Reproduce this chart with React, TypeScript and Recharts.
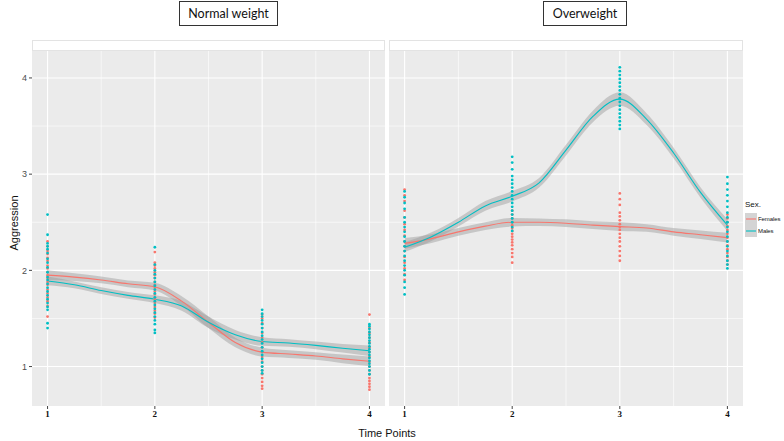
import { ComposedChart, XAxis, YAxis, CartesianGrid, Scatter, Area, Line } from 'recharts';

const timePoints = [1, 2, 3, 4];
const xTicks = [1, 2, 3, 4];
const yTicks = [1, 2, 3, 4];
const minorX = [1.5, 2.5, 3.5];
const minorY = [1.5, 2.5, 3.5];
const panels = ['Normal weight', 'Overweight'];
const sexes = ['Females', 'Males'];

// smoothed curve at these x positions
const curveX = [1, 1.25, 1.5, 1.75, 2, 2.25, 2.5, 2.75, 3, 3.25, 3.5, 3.75, 4];

const nwFemLine = [1.95, 1.93, 1.9, 1.86, 1.83, 1.68, 1.46, 1.25, 1.15, 1.13, 1.11, 1.08, 1.055];
const nwFemHalf = [0.05, 0.04, 0.035, 0.035, 0.04, 0.05, 0.06, 0.05, 0.045, 0.04, 0.04, 0.045, 0.05];
const nwMaleLine = [1.89, 1.85, 1.79, 1.74, 1.7, 1.63, 1.46, 1.33, 1.26, 1.245, 1.22, 1.19, 1.165];
const nwMaleHalf = [0.045, 0.035, 0.035, 0.035, 0.04, 0.05, 0.06, 0.05, 0.045, 0.04, 0.04, 0.045, 0.055];

const owFemLine = [2.28, 2.33, 2.4, 2.46, 2.5, 2.5, 2.49, 2.47, 2.455, 2.44, 2.4, 2.37, 2.34];
const owFemHalf = [0.055, 0.045, 0.04, 0.04, 0.045, 0.04, 0.04, 0.04, 0.045, 0.04, 0.04, 0.045, 0.05];
const owMaleLine = [2.24, 2.35, 2.5, 2.67, 2.77, 2.91, 3.25, 3.6, 3.78, 3.57, 3.22, 2.81, 2.47];
const owMaleHalf = [0.05, 0.045, 0.045, 0.05, 0.055, 0.05, 0.055, 0.06, 0.07, 0.06, 0.055, 0.055, 0.06];

// individual scores, one list per time point
const nwFemPts = [
  [2.3, 2.25, 2.2, 2.17, 2.13, 2.1, 2.05, 2.02, 1.98, 1.95, 1.92, 1.88, 1.85, 1.8, 1.76, 1.72, 1.68, 1.63, 1.52],
  [2.19, 2.08, 2.05, 2.02, 1.98, 1.95, 1.92, 1.88, 1.85, 1.82, 1.78, 1.75, 1.7, 1.66, 1.62, 1.58, 1.55, 1.51],
  [1.54, 1.5, 1.45, 1.4, 1.35, 1.3, 1.25, 1.2, 1.15, 1.1, 1.05, 1.0, 0.96, 0.92, 0.88, 0.84, 0.8, 0.77],
  [1.54, 1.4, 1.35, 1.3, 1.25, 1.2, 1.15, 1.1, 1.05, 1.0, 0.96, 0.92, 0.88, 0.85, 0.82, 0.79, 0.76],
];
const nwMalePts = [
  [2.58, 2.37, 2.28, 2.25, 2.22, 2.18, 2.12, 2.08, 2.03, 1.98, 1.93, 1.9, 1.86, 1.82, 1.78, 1.74, 1.7, 1.66, 1.62, 1.59, 1.45, 1.4],
  [2.24, 2.06, 2.0, 1.96, 1.92, 1.88, 1.84, 1.8, 1.76, 1.72, 1.68, 1.64, 1.6, 1.56, 1.52, 1.48, 1.44, 1.38, 1.35],
  [1.59, 1.55, 1.52, 1.48, 1.44, 1.4, 1.36, 1.32, 1.28, 1.24, 1.2, 1.16, 1.12, 1.08, 1.04, 1.0, 0.96, 0.93],
  [1.44, 1.42, 1.39, 1.36, 1.33, 1.3, 1.27, 1.24, 1.21, 1.18, 1.15, 1.12, 1.09, 1.06, 1.03, 1.0, 0.96, 0.92],
];
const owFemPts = [
  [2.84, 2.78, 2.72, 2.62, 2.55, 2.48, 2.42, 2.36, 2.3, 2.25, 2.2, 2.14, 2.08, 2.02, 1.96, 1.9],
  [2.62, 2.58, 2.54, 2.5, 2.47, 2.44, 2.41, 2.38, 2.35, 2.32, 2.29, 2.26, 2.22, 2.18, 2.14, 2.08],
  [2.8, 2.74, 2.68, 2.6, 2.56, 2.52, 2.48, 2.45, 2.42, 2.38, 2.34, 2.3, 2.25, 2.2, 2.15, 2.1],
  [2.58, 2.54, 2.5, 2.46, 2.42, 2.38, 2.34, 2.3, 2.26, 2.22, 2.18, 2.14, 2.1, 2.06],
];
const owMalePts = [
  [2.82, 2.76, 2.7, 2.64, 2.55, 2.5, 2.45, 2.4, 2.35, 2.3, 2.25, 2.2, 2.15, 2.1, 2.05, 2.0, 1.95, 1.88, 1.82, 1.75],
  [3.18, 3.12, 3.05, 2.98, 2.94, 2.9, 2.86, 2.82, 2.78, 2.74, 2.7, 2.66, 2.62, 2.58, 2.54, 2.5, 2.45, 2.41],
  [4.11, 4.07, 4.03, 3.99, 3.95, 3.91, 3.87, 3.83, 3.79, 3.75, 3.71, 3.67, 3.63, 3.59, 3.55, 3.51, 3.47],
  [2.97, 2.9, 2.84, 2.78, 2.72, 2.66, 2.6, 2.55, 2.5, 2.45, 2.4, 2.35, 2.3, 2.25, 2.2, 2.15, 2.1, 2.06, 2.02],
];

const FEM = '#F8766D';
const MALE = '#00BFC4';

const buildCurve = (fl: number[], fh: number[], ml: number[], mh: number[]) =>
  curveX.map((x, i) => ({
    x,
    f: fl[i],
    m: ml[i],
    fBand: [fl[i] - fh[i], fl[i] + fh[i]],
    mBand: [ml[i] - mh[i], ml[i] + mh[i]],
  }));

const buildPts = (lists: number[][]) =>
  lists.flatMap((ys, k) => ys.map((y) => ({ x: timePoints[k], y })));

const panelData = [
  { curve: buildCurve(nwFemLine, nwFemHalf, nwMaleLine, nwMaleHalf), fem: buildPts(nwFemPts), male: buildPts(nwMalePts) },
  { curve: buildCurve(owFemLine, owFemHalf, owMaleLine, owMaleHalf), fem: buildPts(owFemPts), male: buildPts(owMalePts) },
];

const dot = (color: string) => (p: any) => <circle cx={p.cx} cy={p.cy} r={1.4} fill={color} />;

const serifTick = { fontFamily: 'Liberation Serif', fontWeight: 700, fontSize: 9, fill: '#111' };

function Panel({ idx, left, width }: { idx: number; left: number; width: number }) {
  const d = panelData[idx];
  const first = idx === 0;
  return (
    <div style={{ position: 'absolute', left, top: 51 }}>
      <ComposedChart width={width} height={390} data={d.curve} margin={{ top: 0, right: 0, bottom: 0, left: 0 }}>
        <CartesianGrid fill="#ebebeb" stroke="#ffffff" strokeWidth={0.6} verticalValues={minorX} horizontalValues={minorY} />
        <CartesianGrid stroke="#ffffff" strokeWidth={1.1} verticalValues={xTicks} horizontalValues={yTicks} />
        <XAxis
          dataKey="x"
          type="number"
          domain={[0.855, 4.145]}
          ticks={xTicks}
          allowDataOverflow
          height={35}
          axisLine={false}
          tickSize={3}
          tickLine={{ stroke: '#444' }}
          tick={serifTick}
        />
        <YAxis
          type="number"
          domain={[0.59, 4.28]}
          ticks={yTicks}
          allowDataOverflow
          hide={!first}
          width={32}
          axisLine={false}
          tickSize={3}
          tickLine={{ stroke: '#444' }}
          tick={{ fontFamily: 'Liberation Sans', fontSize: 9, fill: '#4d4d4d' }}
        />
        <Scatter data={d.fem} dataKey="y" shape={dot(FEM)} isAnimationActive={false} />
        <Scatter data={d.male} dataKey="y" shape={dot(MALE)} isAnimationActive={false} />
        <Area dataKey="fBand" type="monotone" stroke="none" fill="#999999" fillOpacity={0.45} isAnimationActive={false} />
        <Area dataKey="mBand" type="monotone" stroke="none" fill="#999999" fillOpacity={0.45} isAnimationActive={false} />
        <Line dataKey="f" type="monotone" stroke={FEM} strokeWidth={1.1} dot={false} isAnimationActive={false} />
        <Line dataKey="m" type="monotone" stroke={MALE} strokeWidth={1.1} dot={false} isAnimationActive={false} />
      </ComposedChart>
    </div>
  );
}

const titleBox = (left: number, width: number, text: string) => (
  <div
    style={{
      position: 'absolute',
      left,
      top: 1,
      width,
      height: 25,
      border: '1px solid #333',
      boxSizing: 'border-box',
      display: 'flex',
      alignItems: 'center',
      justifyContent: 'center',
      fontFamily: 'Lato',
      fontSize: 12.5,
      color: '#111',
      whiteSpace: 'nowrap',
    }}
  >
    {text}
  </div>
);

const strip = (left: number, width: number) => (
  <div style={{ position: 'absolute', left, top: 40, width, height: 11, border: '1px solid #e3e3e3', boxSizing: 'border-box', background: '#fff' }} />
);

export default function App() {
  return (
    <div style={{ position: 'absolute', left: 0, top: 0, width: 784, height: 441, background: '#fff', overflow: 'hidden', fontFamily: 'Liberation Sans' }}>
      {titleBox(179, 99, panels[0])}
      {titleBox(543, 84, panels[1])}
      {strip(32, 353)}
      {strip(389, 354)}
      <Panel idx={0} left={0} width={385} />
      <Panel idx={1} left={389} width={354} />
      <div
        style={{
          position: 'absolute',
          left: 14,
          top: 223,
          transform: 'translate(-50%, -50%) rotate(-90deg)',
          fontSize: 11,
          color: '#111',
          whiteSpace: 'nowrap',
        }}
      >
        Aggression
      </div>
      <div
        style={{ position: 'absolute', left: 337, width: 100, top: 427, height: 12, lineHeight: '12px', textAlign: 'center', fontSize: 11, color: '#111', whiteSpace: 'nowrap' }}
      >
        Time Points
      </div>
      <div style={{ position: 'absolute', left: 745, top: 200, fontSize: 8, lineHeight: '10px', color: '#111' }}>Sex.</div>
      {sexes.map((s, i) => (
        <div
          key={s}
          style={{ position: 'absolute', left: 745, top: 213 + i * 12, width: 39, height: 12, display: 'flex', alignItems: 'center', whiteSpace: 'nowrap' }}
        >
          <svg width={12} height={12} style={{ flexShrink: 0 }}>
            <rect x={0} y={0} width={12} height={12} fill="#d4d4d4" />
            <line x1={1} x2={11} y1={6} y2={6} stroke={i === 0 ? FEM : MALE} strokeWidth={1.1} />
          </svg>
          <span style={{ fontSize: 6, marginLeft: 1, color: '#111', letterSpacing: -0.1 }}>{s}</span>
        </div>
      ))}
    </div>
  );
}
